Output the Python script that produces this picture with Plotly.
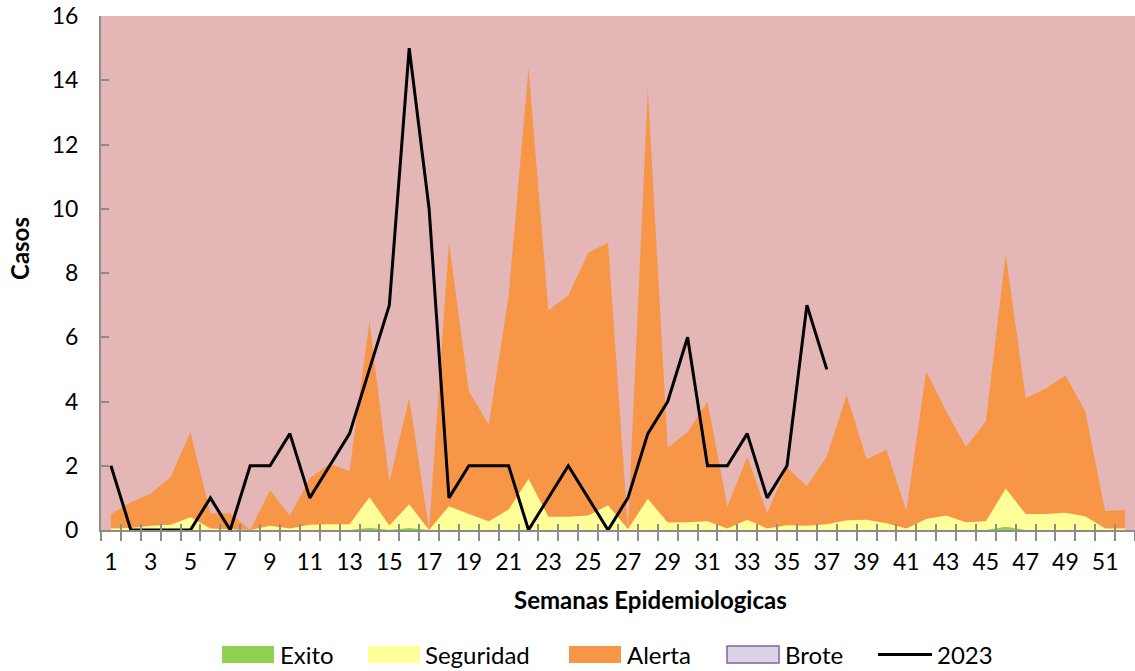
import plotly.graph_objects as go

semanas = list(range(1, 53))

# upper limits of each zone of the endemic channel (cases)
exito = [0, 0, 0, 0, 0, 0, 0, 0, 0, 0, 0, 0, 0, 0.07, 0, 0.06, 0, 0, 0, 0,
         0, 0, 0, 0, 0, 0, 0, 0, 0, 0, 0, 0, 0, 0, 0, 0, 0, 0, 0, 0,
         0, 0, 0, 0, 0, 0.1, 0, 0, 0, 0, 0, 0]
seguridad = [0.05, 0.06, 0.13, 0.16, 0.4, 0.05, 0.02, 0.0, 0.13, 0.05,
             0.16, 0.18, 0.18, 1.02, 0.14, 0.8, 0.0, 0.74, 0.5, 0.27,
             0.64, 1.59, 0.41, 0.41, 0.45, 0.77, 0.03, 0.97, 0.23, 0.24,
             0.27, 0.05, 0.32, 0.05, 0.15, 0.13, 0.18, 0.3, 0.32, 0.21,
             0.05, 0.34, 0.45, 0.24, 0.27, 1.29, 0.5, 0.5, 0.54, 0.43,
             0.05, 0.05]
alerta = [0.5, 0.86, 1.13, 1.66, 3.04, 0.52, 0.52, 0.0, 1.24, 0.45,
          1.61, 2.06, 1.83, 6.5, 1.5, 4.1, 0.0, 8.97, 4.32, 3.28,
          7.3, 14.37, 6.84, 7.3, 8.63, 8.94, 0.05, 13.73, 2.56, 3.04,
          4.0, 0.72, 2.28, 0.53, 1.95, 1.36, 2.29, 4.21, 2.2, 2.5,
          0.59, 4.94, 3.7, 2.58, 3.38, 8.59, 4.11, 4.4, 4.81, 3.7,
          0.59, 0.63]
semanas_2023 = list(range(1, 38))
casos_2023 = [2, 0, 0, 0, 0, 1, 0, 2, 2, 3, 1, 2, 3, 5, 7, 15, 10, 1, 2, 2,
              2, 0, 1, 2, 1, 0, 1, 3, 4, 6, 2, 2, 3, 1, 2, 7, 5]

y_ticks = list(range(0, 17, 2))
x_labels = list(range(1, 52, 2))

FONT = "Lato"
C_EXITO, C_SEG, C_ALERTA = "#92D050", "#FFFF99", "#F79646"
C_BROTE, C_BROTE_LINE, C_BG = "#DDD3E6", "#8064A2", "#E5B6B6"

# figure fills the window (body margin removed in post_script)
W, H = 1135, 671
L, R, T, B = 101, 1135, 16, 530


def px(x):
    return (x - L) / (R - L)


def py(y):
    return (B - y) / (B - T)


fig = go.Figure()
fig.add_trace(go.Scatter(x=semanas, y=alerta, name="Alerta", mode="none",
                         fill="tozeroy", fillcolor=C_ALERTA))
fig.add_trace(go.Scatter(x=semanas, y=seguridad, name="Seguridad", mode="none",
                         fill="tozeroy", fillcolor=C_SEG))
fig.add_trace(go.Scatter(x=semanas, y=exito, name="Exito", mode="none",
                         fill="tozeroy", fillcolor=C_EXITO))
fig.add_trace(go.Scatter(x=semanas_2023, y=casos_2023, name="2023", mode="lines",
                         line=dict(color="black", width=3)))
# second x axis only carries the inward half of the crossing tick marks
fig.add_trace(go.Scatter(x=[None], y=[None], xaxis="x2", showlegend=False,
                         hoverinfo="skip"))

boundaries = [s - 0.5 for s in semanas] + [semanas[-1] + 0.5]

# manual legend (Excel-style rectangular swatches), positions in px
legend_items = [
    ("Exito", C_EXITO, None, 222, 280),
    ("Seguridad", C_SEG, None, 368, 425),
    ("Alerta", C_ALERTA, None, 569, 627),
    ("Brote", C_BROTE, C_BROTE_LINE, 727, 785),
]
shapes = []
annotations = []
LEG_Y = 654.5
for name, fill, border, x0, tx in legend_items:
    shapes.append(dict(type="rect", xref="paper", yref="paper",
                       x0=px(x0), x1=px(x0 + 52), y0=py(LEG_Y + 8.5),
                       y1=py(LEG_Y - 8.5), fillcolor=fill,
                       line=dict(color=border if border else fill,
                                 width=1.5 if border else 0)))
    annotations.append(dict(text=name, xref="paper", yref="paper",
                            x=px(tx - 2), y=py(LEG_Y), xanchor="left",
                            yanchor="middle", showarrow=False,
                            font=dict(size=24)))
shapes.append(dict(type="line", xref="paper", yref="paper",
                   x0=px(878), x1=px(932), y0=py(LEG_Y), y1=py(LEG_Y),
                   line=dict(color="black", width=3)))
annotations.append(dict(text="2023", xref="paper", yref="paper",
                        x=px(935), y=py(LEG_Y), xanchor="left",
                        yanchor="middle", showarrow=False,
                        font=dict(size=24)))
annotations.append(dict(text="<b>Semanas Epidemiologicas</b>", xref="paper",
                        yref="paper", x=px(650), y=py(599), showarrow=False,
                        xanchor="center", yanchor="middle",
                        font=dict(size=24)))
annotations.append(dict(text="<b>Casos</b>", xref="paper", yref="paper",
                        x=px(19), y=py(249), showarrow=False, textangle=-90,
                        xanchor="center", yanchor="middle",
                        font=dict(size=24)))

fig.update_layout(
    width=W, height=H,
    margin=dict(l=L, r=W - R, t=T, b=H - B, autoexpand=False),
    paper_bgcolor="white",
    plot_bgcolor=C_BG,
    font=dict(family=FONT, size=23, color="black"),
    showlegend=False,
    xaxis=dict(range=[0.5, 52.5], showgrid=False, zeroline=False,
               showline=True, linecolor="#8C8C8C", linewidth=2,
               automargin=False, ticklabeloverflow="allow",
               tickmode="array", tickvals=x_labels,
               ticktext=[str(v) for v in x_labels], ticks="",
               minor=dict(tickmode="array", tickvals=boundaries,
                          ticks="outside", ticklen=9, tickcolor="#8C8C8C",
                          tickwidth=2, showgrid=False),
               ticklabelstandoff=10),
    xaxis2=dict(range=[0.5, 52.5], overlaying="x", showgrid=False,
                zeroline=False, showticklabels=False, tickmode="array",
                tickvals=boundaries, ticks="inside", ticklen=6,
                tickcolor="#8C8C8C", tickwidth=2, side="bottom",
                automargin=False),
    yaxis=dict(range=[0, 16], showgrid=False, zeroline=False,
               showline=True, linecolor="#8C8C8C", linewidth=2,
               automargin=False, ticklabeloverflow="allow",
               tickmode="array", tickvals=y_ticks, ticks="inside",
               ticklen=8, tickcolor="#8C8C8C", tickwidth=2,
               ticklabelstandoff=16),
    shapes=shapes,
    annotations=annotations,
)

fig.write_html(
    "out.html",
    config={"displayModeBar": False},
    post_script="document.body.style.margin='0';"
                "document.body.style.overflow='hidden';",
)
